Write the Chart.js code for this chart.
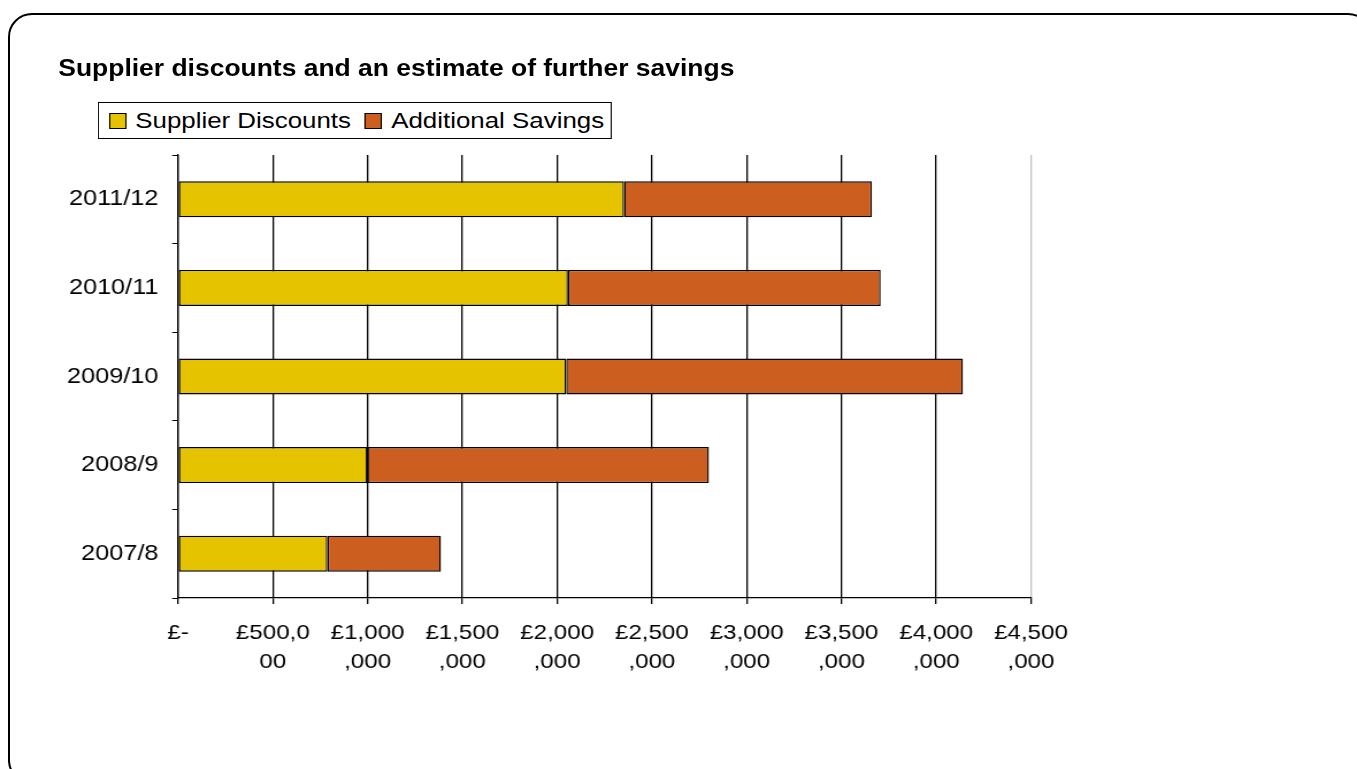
<!DOCTYPE html>
<html>
<head>
<meta charset="utf-8">
<title>Supplier discounts and an estimate of further savings</title>
<script src="https://cdn.jsdelivr.net/npm/chart.js@4.4.1/dist/chart.umd.min.js"></script>
<style>
  html, body { margin: 0; padding: 0; background: #fff; overflow: hidden; }
  body { width: 1357px; height: 769px; position: relative; font-family: 'Liberation Sans', Arial, sans-serif; }
  #frame {
    position: absolute; left: 8px; top: 13px; width: 1364px; height: 771px;
    border: 2px solid #000; border-radius: 24px; box-sizing: border-box;
  }
  /* everything inside is laid out narrow and stretched sideways */
  #stage {
    position: absolute; left: 0; top: 0; width: 1180px; height: 769px;
    transform: scaleX(1.15); transform-origin: 0 0;
  }
  #chartBox { position: absolute; left: 0; top: 0; width: 1180px; height: 769px; }
  #title {
    position: absolute; left: 50.7px; top: 57px; line-height: 23px;
    font-size: 23px; font-weight: bold; color: #000; white-space: nowrap;
  }
  #legend {
    position: absolute; left: 85px; top: 102px; width: 447px; height: 37px;
    border: 1px solid #000; box-sizing: border-box; background: #fff;
    display: flex; align-items: center; padding-left: 8.6px;
    font-size: 22.5px; color: #000; white-space: nowrap;
  }
  #legend .item { display: flex; align-items: center; margin-right: 12px; }
  #legend .swatch { width: 13px; height: 14px; border: 1px solid #000; margin-right: 8px; }
</style>
</head>
<body>
<div id="frame"></div>
<div id="stage">
  <div id="chartBox"><canvas id="savingsChart"></canvas></div>
  <div id="title">Supplier discounts and an estimate of further savings</div>
  <div id="legend"></div>
</div>
<script>
const years = ['2007/8', '2008/9', '2009/10', '2010/11', '2011/12'];
const supplierDiscounts = [788000, 999000, 2048000, 2057000, 2353000];
const additionalSavings = [599000, 1802000, 2093000, 1650000, 1308000];
const xTickLabels = [
  '£-',
  ['£500,0', '00'],
  ['£1,000', ',000'],
  ['£1,500', ',000'],
  ['£2,000', ',000'],
  ['£2,500', ',000'],
  ['£3,000', ',000'],
  ['£3,500', ',000'],
  ['£4,000', ',000'],
  ['£4,500', ',000']
];

const FONT = "'Liberation Sans', Arial, sans-serif";
const X_MAX = 4500000;

const ctx = document.getElementById('savingsChart').getContext('2d');
const chart = new Chart(ctx, {
  type: 'bar',
  data: {
    labels: years,
    datasets: [
      {
        label: 'Supplier Discounts',
        data: supplierDiscounts,
        backgroundColor: '#E6C300',
        borderColor: '#000',
        borderWidth: 1.4,
        borderSkipped: false,
        barPercentage: 0.406,
        categoryPercentage: 1
      },
      {
        label: 'Additional Savings',
        data: additionalSavings,
        backgroundColor: '#CC5F20',
        borderColor: '#000',
        borderWidth: 1.4,
        borderSkipped: false,
        barPercentage: 0.406,
        categoryPercentage: 1
      }
    ]
  },
  options: {
    indexAxis: 'y',
    responsive: true,
    maintainAspectRatio: false,
    animation: false,
    layout: { padding: { left: 0, top: 155, right: 283.5, bottom: 71 } },
    plugins: {
      legend: { display: false },
      title: { display: false },
      tooltip: { enabled: false }
    },
    scales: {
      x: {
        type: 'linear',
        stacked: true,
        min: 0,
        max: X_MAX,
        afterFit: s => { s.height = 100; },
        ticks: {
          stepSize: 500000,
          color: '#000',
          padding: 15,
          maxRotation: 0,
          autoSkip: false,
          font: { family: FONT, size: 21, lineHeight: 1.36 },
          callback: (v, i) => xTickLabels[i]
        },
        grid: {
          color: c => (c.tick && c.tick.value === X_MAX) ? '#c0c0c0' : '#000',
          tickColor: '#000',
          tickLength: 6,
          lineWidth: 1.3
        },
        border: { display: true, color: '#000', width: 1.3 }
      },
      y: {
        type: 'category',
        stacked: true,
        reverse: true,
        afterFit: s => { s.width = 154.8; },
        ticks: {
          color: '#000',
          padding: 12,
          font: { family: FONT, size: 22 }
        },
        grid: {
          drawOnChartArea: false,
          drawTicks: true,
          tickLength: 5,
          color: '#000',
          offset: true
        },
        border: { display: true, color: '#000', width: 1.3 }
      }
    }
  }
});

// legend built from the datasets
const legendEl = document.getElementById('legend');
chart.data.datasets.forEach(ds => {
  const item = document.createElement('div');
  item.className = 'item';
  const sw = document.createElement('span');
  sw.className = 'swatch';
  sw.style.background = ds.backgroundColor;
  const txt = document.createElement('span');
  txt.textContent = ds.label;
  item.appendChild(sw);
  item.appendChild(txt);
  legendEl.appendChild(item);
});
</script>
</body>
</html>
